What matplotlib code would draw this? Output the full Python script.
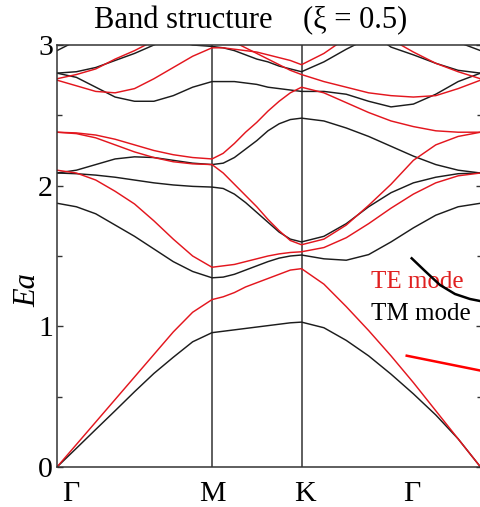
import numpy as np
import matplotlib
matplotlib.use("Agg")
import matplotlib.pyplot as plt
from matplotlib.ticker import MultipleLocator

plt.rcParams['font.family'] = ['Liberation Serif', 'DejaVu Serif']

N = np.nan
# path lengths (hexagonal lattice, units of 2pi/a)
seg_GM, seg_MK, seg_KG = 1/np.sqrt(3), 1/3, 2/3
k_M = seg_GM
k_K = seg_GM + seg_MK
k_G2 = seg_GM + seg_MK + seg_KG
n_seg = 9

sym_labels = ['Γ', 'M', 'K', 'Γ']

# TE bands (red): values along Γ-M (9 pts), M-K (8 pts after M), K-Γ (8 pts after K)
TE_bands = [
    [0, 0.16, 0.32, 0.48, 0.64, 0.80, 0.96, 1.10, 1.19,
     1.21, 1.24, 1.28, 1.31, 1.34, 1.37, 1.40, 1.41,
     1.30, 1.14, 0.97, 0.79, 0.60, 0.40, 0.20, 0.0],
    [2.11, 2.09, 2.04, 1.96, 1.87, 1.75, 1.62, 1.50, 1.42,
     1.43, 1.44, 1.46, 1.48, 1.50, 1.515, 1.525, 1.53,
     1.56, 1.63, 1.73, 1.84, 1.94, 2.02, 2.07, 2.09],
    [2.38, 2.37, 2.34, 2.29, 2.24, 2.20, 2.17, 2.155, 2.15,
     2.09, 2.01, 1.93, 1.85, 1.76, 1.68, 1.61, 1.58,
     1.62, 1.72, 1.86, 2.01, 2.18, 2.29, 2.35, 2.38],
    [2.38, 2.375, 2.36, 2.33, 2.29, 2.25, 2.22, 2.20, 2.19,
     2.23, 2.30, 2.38, 2.45, 2.53, 2.60, 2.66, 2.70,
     2.66, 2.59, 2.52, 2.46, 2.42, 2.39, 2.38, 2.38],
    [2.75, 2.71, 2.67, 2.66, 2.69, 2.76, 2.84, 2.92, 2.98,
     2.98, 2.97, 2.96, 2.95, 2.93, 2.91, 2.89, 2.86,
     2.94, 3.05, N, N, N, N, N, N],
    [2.76, 2.79, 2.83, 2.90, 2.96, 3.03, 3.10, N, N,
     N, N, N, N, N, N, N, N,
     N, N, 3.12, 3.04, 2.95, 2.87, 2.81, 2.76],
    [N, N, N, N, N, N, N, N, N,
     3.06, 3.02, 2.98, 2.94, 2.90, 2.86, 2.82, 2.79,
     2.74, 2.70, 2.66, 2.64, 2.63, 2.64, 2.69, 2.75],
]

# TM bands (black)
TM_bands = [
    [0, 0.133, 0.267, 0.40, 0.535, 0.665, 0.78, 0.89, 0.955,
     0.965, 0.975, 0.985, 0.995, 1.005, 1.015, 1.025, 1.03,
     0.99, 0.90, 0.79, 0.66, 0.52, 0.37, 0.20, 0.0],
    [1.875, 1.85, 1.80, 1.72, 1.64, 1.55, 1.46, 1.39, 1.345,
     1.35, 1.37, 1.40, 1.43, 1.46, 1.485, 1.50, 1.507,
     1.48, 1.47, 1.51, 1.60, 1.70, 1.79, 1.85, 1.875],
    [2.09, 2.085, 2.075, 2.06, 2.04, 2.02, 2.005, 1.995, 1.99,
     1.98, 1.94, 1.88, 1.81, 1.74, 1.67, 1.62, 1.60,
     1.64, 1.73, 1.85, 1.95, 2.02, 2.06, 2.085, 2.09],
    [2.09, 2.11, 2.15, 2.19, 2.205, 2.20, 2.18, 2.16, 2.15,
     2.16, 2.20, 2.26, 2.32, 2.39, 2.44, 2.47, 2.48,
     2.46, 2.41, 2.35, 2.28, 2.21, 2.15, 2.11, 2.09],
    [2.80, 2.77, 2.70, 2.63, 2.60, 2.60, 2.64, 2.70, 2.74,
     2.74, 2.74, 2.73, 2.72, 2.70, 2.69, 2.68, 2.67,
     2.67, 2.65, 2.60, 2.56, 2.58, 2.65, 2.74, 2.80],
    [2.80, 2.81, 2.84, 2.89, 2.94, 3.00, 3.06, N, N,
     N, N, N, N, N, N, N, N,
     N, N, 3.10, 2.985, 2.93, 2.87, 2.82, 2.80],
    [2.96, 3.03, 3.12, N, N, N, N, N, N,
     N, N, N, N, N, N, N, N,
     N, N, N, N, N, N, 3.02, 2.96],
    [N, N, N, N, N, N, 3.04, 3.00, 2.99,
     2.98, 2.96, 2.93, 2.90, 2.88, 2.85, 2.83, 2.81,
     2.88, 2.97, 3.05, N, N, N, N, N],
]

# annotation pointers (data coords)
TE_ptr_k = [1.3025, 1.6127]
TE_ptr_E = [0.7912, 0.6718]
TM_ptr_k = [1.3210, 1.3706, 1.4264, 1.4823, 1.5382, 1.6127]
TM_ptr_E = [1.4836, 1.3933, 1.2938, 1.2298, 1.1943, 1.1659]

k = np.concatenate([
    np.linspace(0, k_M, n_seg),
    np.linspace(k_M, k_K, n_seg)[1:],
    np.linspace(k_K, k_G2, n_seg)[1:],
])

W, H = 481, 507
fig = plt.figure(figsize=(W/100, H/100), dpi=100)
ax = fig.add_axes([57/W, 40/H, 425/W, 422/H])

red = '#e3161e'
blk = '#1c1c1c'
for b in TM_bands:
    ax.plot(k, b, color=blk, lw=1.05, zorder=2)
for b in TE_bands:
    ax.plot(k, b, color=red, lw=1.05, zorder=2.1)

for kv in (k_M, k_K):
    ax.axvline(kv, color='#333333', lw=1.1, zorder=1)

ax.set_xlim(0, 425/268.5)
ax.set_ylim(0, 3)
ax.set_xticks([])
ax.yaxis.set_major_locator(MultipleLocator(1))
ax.yaxis.set_minor_locator(MultipleLocator(0.5))
ax.tick_params(axis='y', which='both', direction='in', right=True, colors='#333333',
               labelcolor='black', labelsize=21.5, pad=3, width=1.0)
ax.tick_params(axis='y', which='major', length=4.5)
ax.tick_params(axis='y', which='minor', length=3.5)
for s in ax.spines.values():
    s.set_color('#333333')
    s.set_linewidth(1.1)

# labels
ax.plot(TE_ptr_k, TE_ptr_E, color='#ff0000', lw=1.8, zorder=5, clip_on=False)
ax.plot(TM_ptr_k, TM_ptr_E, color='black', lw=1.8, zorder=5, clip_on=False)
ax.text(371/W, 1-288/H, 'TE mode', color='#e02020', fontsize=18,
        transform=fig.transFigure, va='baseline', ha='left', zorder=3)
ax.text(371/W, 1-320/H, 'TM mode', color='black', fontsize=18,
        transform=fig.transFigure, va='baseline', ha='left', zorder=3)

fig.text(251/W, 1-28/H, 'Band structure    (ξ = 0.5)', fontsize=22,
         ha='center', va='baseline')
fig.text(27.5/W, 1-290/H, 'Ea', fontsize=22, style='italic', rotation=90,
         ha='center', va='center')
label_px = [71, 212, 305, 412]
for lab, px in zip(sym_labels, label_px):
    fig.text(px/W, 1-501/H, lab, fontsize=21.5, ha='center', va='baseline')

fig.savefig('out.png', dpi=100)
